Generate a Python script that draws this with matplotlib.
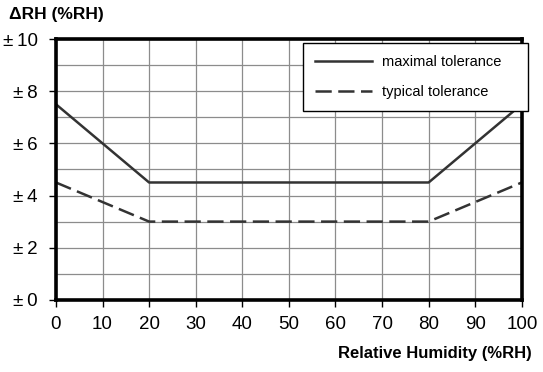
import matplotlib.pyplot as plt
from matplotlib.ticker import MultipleLocator

plt.rcParams['font.family'] = ['Liberation Sans', 'DejaVu Sans']

rh = [0, 20, 80, 100]
maximal = [7.5, 4.5, 4.5, 7.5]
typical = [4.5, 3.0, 3.0, 4.5]
x_ticks = list(range(0, 101, 10))
y_ticks = [0, 2, 4, 6, 8, 10]
y_labels = [f"±\u2009{v}" for v in y_ticks]

fig = plt.figure(figsize=(5.43, 3.72), dpi=100)
ax = fig.add_axes([0.103, 0.194, 0.858, 0.701])

ax.plot(rh, maximal, color="#333333", lw=1.8, label="maximal tolerance")
ax.plot(rh, typical, color="#333333", lw=1.8, dashes=(6.5, 2.6), label="typical tolerance")

ax.set_xlim(0, 100)
ax.set_ylim(0, 10)
ax.set_xticks(x_ticks)
ax.set_yticks(y_ticks)
ax.set_yticklabels(y_labels)
ax.yaxis.set_minor_locator(MultipleLocator(1))
ax.grid(True, which="both", color="#8c8c8c", lw=0.9)
ax.tick_params(which="major", direction="out", length=5, width=1, labelsize=13.5)
ax.tick_params(axis="x", pad=7)
ax.tick_params(axis="y", pad=8)
ax.tick_params(which="minor", length=0)
ax.set_axisbelow(True)
for s in ax.spines.values():
    s.set_linewidth(2.6)
    s.set_color("black")

ax.set_xlabel("Relative Humidity (%RH)", fontsize=12, fontweight="bold", ha="right", va="center")
ax.xaxis.set_label_coords(1.021, -0.207)
fig.text(0.017, 0.962, "ΔRH (%RH)", fontsize=12.5, fontweight="bold", va="center", ha="left")

leg = ax.legend(loc="upper left", mode="expand",
                bbox_to_anchor=(303 / 543, 1 - 111 / 372, 225 / 543, 68 / 372), bbox_transform=fig.transFigure,
                fontsize=10.5, frameon=True, fancybox=False, edgecolor="black", framealpha=1,
                handlelength=3.9, labelspacing=1.05, borderpad=0.85, borderaxespad=0, handletextpad=0.65)
leg.get_frame().set_linewidth(1.0)

fig.savefig("out.png", dpi=100)
